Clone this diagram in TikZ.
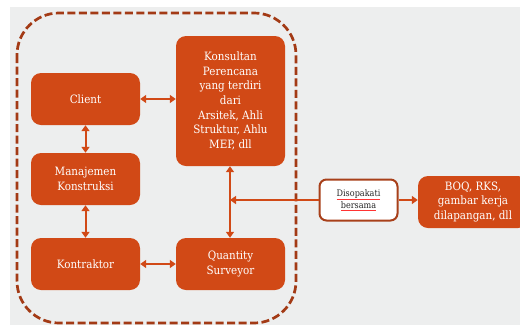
\documentclass[tikz,border=0pt]{standalone}
\usepackage{fontspec}
\setmainfont{DejaVu Serif Condensed}
\usetikzlibrary{arrows.meta}
\definecolor{bgc}{HTML}{EDEEEE}
\definecolor{orng}{HTML}{D14916}
\definecolor{dashc}{HTML}{A33A15}
\definecolor{bordc}{HTML}{A8401A}
\tikzset{
  box/.style={fill=orng, rounded corners=10pt, text=white, align=center,
    font=\fontsize{11.5}{14.7}\selectfont, inner sep=0pt},
  link/.style={draw=orng, line width=2pt, {Triangle[length=6pt,width=8pt]}-{Triangle[length=6pt,width=8pt]}},
  onelink/.style={draw=orng, line width=2pt, -{Triangle[length=6pt,width=8pt]}},
}
\newcommand\spellmark[1]{{\color{red!80}\underline{\textcolor{black!85}{#1}}}}
\begin{document}
\begin{tikzpicture}[x=1pt,y=-1pt]
\useasboundingbox (0,0) rectangle (520,325);
\fill[white] (0,0) rectangle (520,325);
\fill[bgc] (10,7) rectangle (520,325);
\draw[dashc, line width=2.7pt, dash pattern=on 8pt off 3.5pt, rounded corners=42pt] (17,13) rectangle (296,323);
\node[box, minimum width=109pt, minimum height=52pt] (client) at (85.5,99) {Client};
\node[box, minimum width=109pt, minimum height=52pt] (mk) at (85.5,179) {Manajemen\\Konstruksi};
\node[box, minimum width=109pt, minimum height=52pt] (kon) at (85.5,264) {Kontraktor};
\node[box, minimum width=109pt, minimum height=130pt] (ksl) at (230.5,101) {Konsultan\\Perencana\\yang terdiri\\dari\\Arsitek, Ahli\\Struktur, Ahlu\\MEP, dll};
\node[box, minimum width=109pt, minimum height=52pt] (qs) at (230.5,264) {Quantity\\Surveyor};
\node[draw=bordc, line width=2pt, fill=white, rounded corners=7pt, minimum width=78pt, minimum height=41pt, align=center, inner sep=0pt, font=\fontsize{9}{12}\selectfont] (dis) at (358.5,200) {\spellmark{Disopakati}\\\spellmark{bersama}};
\node[box, minimum width=110pt, minimum height=52pt] (boq) at (473,202) {BOQ, RKS,\\gambar kerja\\dilapangan, dll};
\coordinate (j) at (230,200);
\draw[link] (client.east) -- (client.east -| ksl.west);
\draw[link] (client) -- (mk);
\draw[link] (mk) -- (kon);
\draw[link] (kon) -- (qs);
\draw[link] (ksl.south -| j) -- (qs.north -| j);
\draw[onelink] (dis.west) -- (j);
\draw[onelink] (dis.east) -- (boq.west |- dis.east);
\end{tikzpicture}
\end{document}
